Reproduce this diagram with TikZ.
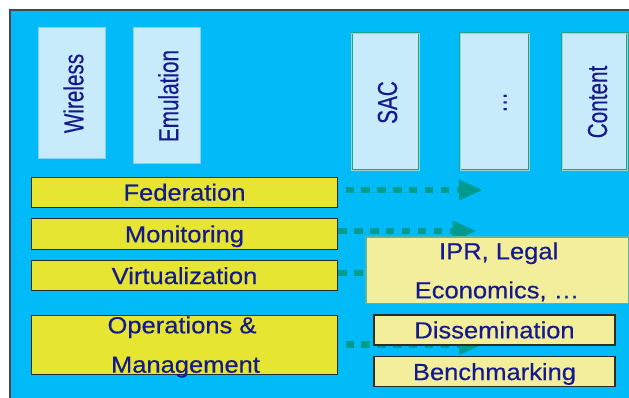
\documentclass[tikz,border=0pt]{standalone}
\usepackage{fontspec}
\setmainfont{Liberation Sans}[FakeBold=0.4]
\usetikzlibrary{arrows.meta}

\definecolor{bgblue}{RGB}{0,187,247}
\definecolor{framegray}{RGB}{70,72,80}
\definecolor{paleblue}{RGB}{200,235,252}
\definecolor{paleblueedge}{RGB}{135,208,242}
\definecolor{tealedge}{RGB}{30,160,150}
\definecolor{tealinner}{RGB}{150,215,210}
\definecolor{boxyellow}{RGB}{230,230,50}
\definecolor{paleyellow}{RGB}{242,238,155}
\definecolor{ipredge}{RGB}{95,180,160}
\definecolor{navy}{RGB}{20,25,140}
\definecolor{arrowteal}{RGB}{0,155,143}
\definecolor{boxedge}{RGB}{45,45,40}

% wide lettering for the horizontal layers, tall lettering for the pillars
\newcommand{\widetxt}[1]{\scalebox{1.095}[1]{#1}}
\newcommand{\talltxt}[1]{\scalebox{1}[1.33]{#1}}

\begin{document}
\begin{tikzpicture}[x=1pt,y=-1pt,
  pillar/.style={fill=paleblue, draw=paleblueedge, line width=0.8pt, inner sep=0pt},
  framedpillar/.style={fill=paleblue, draw=tealedge, double=tealinner,
    double distance=0.8pt, line width=0.7pt, inner sep=0pt},
  vlabel/.style={rotate=90, anchor=base, inner sep=0pt, text=navy,
    font=\fontsize{20.7}{24}\selectfont},
  layer/.style={fill=boxyellow, draw=boxedge, line width=1pt, inner sep=0pt,
    text=navy, font=\fontsize{23.3}{28}\selectfont, text height=16.7pt, text depth=0pt},
  palelayer/.style={fill=paleyellow, draw=boxedge, line width=1.3pt, inner sep=0pt,
    text=navy, font=\fontsize{23.3}{28}\selectfont, text height=16.7pt, text depth=0pt},
  hlabel/.style={anchor=base, inner sep=0pt, text=navy,
    font=\fontsize{23.3}{28}\selectfont},
  flow/.style={draw=arrowteal, line width=6.7pt, dash pattern=on 8.3pt off 7.6pt,
    -{Triangle[length=24pt,width=19pt]}}
]
\path[use as bounding box] (0,0) rectangle (629,398);
\clip (0,0) rectangle (629,398);
\fill[white] (0,0) rectangle (629,398);

% blue panel with its frame
\draw[fill=bgblue, draw=framegray, line width=1.6pt] (10.2,10.2) rectangle (660,430);

% vertical pillars
\node[pillar, minimum width=66.5pt, minimum height=131pt] (wireless) at (71.75,92.5) {};
\node[pillar, minimum width=67pt, minimum height=136pt] (emulation) at (166.5,95) {};
\node[framedpillar, minimum width=67.6pt, minimum height=137pt] (sac) at (385.5,101.5) {};
\node[framedpillar, minimum width=68.7pt, minimum height=137pt] (more) at (494.7,101.5) {};
\node[framedpillar, minimum width=65.2pt, minimum height=137pt] (content) at (594.9,101.5) {};

\node[vlabel] (wirelessT) at (83.3,93.5) {\talltxt{Wireless}};
\node[vlabel] (emulationT) at (178.2,96) {\talltxt{Emulation}};
\node[vlabel] (sacT) at (397,102.5) {\talltxt{SAC}};
\node[vlabel] (moreT) at (506.5,102.5) {\talltxt{…}};
\node[vlabel] (contentT) at (607,102) {\talltxt{Content}};

% arrow ends
\coordinate (fedtip) at (483,190);
\coordinate (montip) at (476.7,231);
\coordinate (virtip) at (476.7,273);
\coordinate (opstip) at (483,344.5);

% horizontal layers on the left
\node[layer, minimum width=305.6pt, minimum height=29.7pt] (fed) at (184.5,192.2) {\widetxt{Federation}};
\node[layer, minimum width=305.6pt, minimum height=30pt] (mon) at (184.5,234) {\widetxt{Monitoring}};
\node[layer, minimum width=305.6pt, minimum height=30pt] (vir) at (184.5,275.7) {\widetxt{Virtualization}};
\node[layer, minimum width=305.6pt, minimum height=59.3pt] (ops) at (184.5,344.7) {};
\node[hlabel] (ops1) at (182,333.3) {\widetxt{Operations \&}};
\node[hlabel] (ops2) at (185.5,372.7) {\widetxt{Management}};

% dotted flows to the right
\draw[flow, shorten <=7.7pt] (fed.east |- fedtip) -- (fedtip);
\draw[flow, shorten <=0.6pt] (mon.east |- montip) -- (montip);
\draw[flow, shorten <=0.6pt] (vir.east |- virtip) -- (virtip);
\draw[flow, shorten <=7.7pt] (ops.east |- opstip) -- (opstip);

% boxes on the right
\node[fill=paleyellow, draw=ipredge, line width=1.6pt, inner sep=0pt,
  minimum width=262.6pt, minimum height=66.6pt] (ipr) at (497,270) {};
\node[hlabel] (ipr1) at (498.7,259.3) {\widetxt{IPR, Legal}};
\node[hlabel] (ipr2) at (497,298.3) {\widetxt{Economics, …}};

\node[palelayer, minimum width=241pt, minimum height=30pt] (diss) at (494.5,330) {\widetxt{Dissemination}};
\node[palelayer, minimum width=241pt, minimum height=30pt] (bench) at (494.5,371.7) {\widetxt{Benchmarking}};
\end{tikzpicture}
\end{document}
